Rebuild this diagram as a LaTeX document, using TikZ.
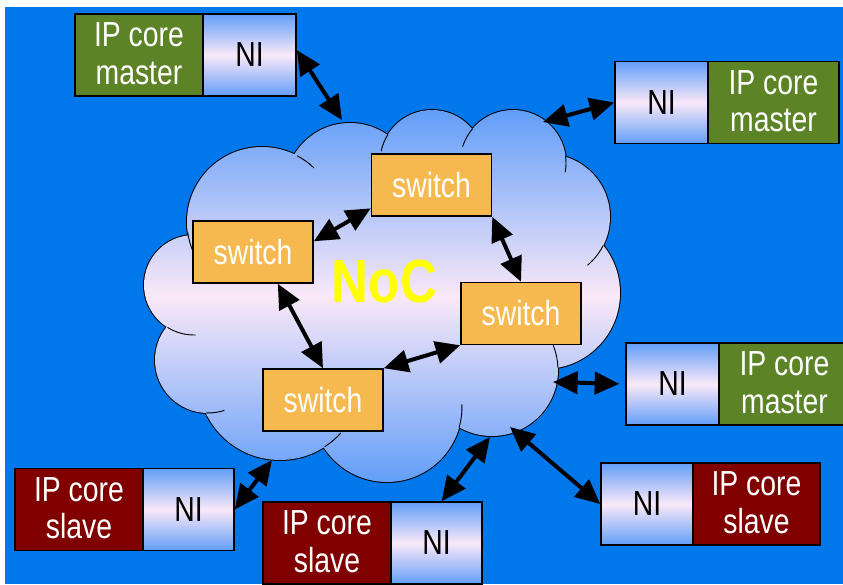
\documentclass[tikz,border=0pt]{standalone}
\usepackage{fontspec}
\setmainfont{Liberation Sans}
\usepackage{graphicx}
\usetikzlibrary{arrows.meta}

\definecolor{bgblue}{RGB}{0,120,235}
\definecolor{ipgreen}{RGB}{93,131,39}
\definecolor{ipred}{RGB}{128,0,0}
\definecolor{swfill}{RGB}{245,185,80}
\definecolor{shblue}{RGB}{98,158,248}
\definecolor{shpink}{RGB}{250,232,248}
\definecolor{nocyellow}{RGB}{255,255,0}

% condensed sans text, as set in the slide
\newcommand\narrow[1]{\scalebox{0.815}[1]{#1}}
\newcommand\twolines[2]{\raisebox{-0.09cm}[\height][\depth]{\narrow{\begin{tabular}{@{}c@{}}#1\\#2\end{tabular}}}}

\begin{document}
\begin{tikzpicture}[x=0.03cm,y=-0.03cm,
  boxfont/.style={font=\fontsize{29.7pt}{32.3pt}\selectfont},
  box/.style={draw=black, line width=1.3pt, inner sep=0pt, minimum height=2.46cm, boxfont},
  ipm/.style={box, fill=ipgreen, text=white, minimum width=3.84cm},
  ips/.style={box, fill=ipred, text=white, minimum width=3.84cm},
  ni/.style={box, top color=shblue, bottom color=shblue, middle color=shpink, text=black, minimum width=2.79cm},
  switchbox/.style={box, fill=swfill, text=white, minimum width=3.6cm, minimum height=1.86cm},
  link/.style={line width=3.4pt, {Triangle[length=21pt,width=19pt]}-{Triangle[length=21pt,width=19pt]}},
  cloudline/.style={line width=0.8pt},
]
% page and slide background
\fill[white] (0,0) rectangle (843,584);
\useasboundingbox (0,0) rectangle (843,584);
\fill[bgblue] (5,7) rectangle (843,584);

% cloud: outline of the bumps, then the shaded union on top
\draw[line width=1.7pt] foreach \cx/\cy/\r in {262/222/75, 350/188/65, 432/162/52, 513/163/53, 547/217/63, 544/293/76, 492/370/66, 387/407/75, 280/378/82, 208/360/53, 194/285/50} {(\cx,\cy) circle[radius=\r]};
\shade[top color=shblue, bottom color=shblue, middle color=shpink]
  foreach \cx/\cy/\r in {262/222/75, 350/188/65, 432/162/52, 513/163/53, 547/217/63, 544/293/76, 492/370/66, 387/407/75, 280/378/82, 208/360/53, 194/285/50} {(\cx,\cy) circle[radius=\r]}
  (380,297) circle[radius=130] (280,300) circle[radius=90] (480,285) circle[radius=90];
% short inner ends of the bump arcs
\draw[cloudline] (262,222) ++(-62:75) arc[start angle=-62, end angle=-46, radius=75];
\draw[cloudline] (262,222) ++(172:75) arc[start angle=172, end angle=158, radius=75];
\draw[cloudline] (432,162) ++(212:52) arc[start angle=212, end angle=192, radius=52];
\draw[cloudline] (513,163) ++(220:53) arc[start angle=220, end angle=198, radius=53];
\draw[cloudline] (513,163) ++(-8:53) arc[start angle=-8, end angle=10, radius=53];
\draw[cloudline] (547,217) ++(27:63) arc[start angle=27, end angle=50, radius=63];
\draw[cloudline] (492,370) ++(-2:66) arc[start angle=-2, end angle=-22, radius=66];
\draw[cloudline] (387,407) ++(16:75) arc[start angle=16, end angle=-2, radius=75];
\draw[cloudline] (280,378) ++(57:82) arc[start angle=57, end angle=42, radius=82];
\draw[cloudline] (208,360) ++(92:53) arc[start angle=92, end angle=72, radius=53];
\draw[cloudline] (194,285) ++(122:50) arc[start angle=122, end angle=88, radius=50];

% network label
\node[font=\fontsize{52pt}{60pt}\selectfont\bfseries, text=nocyellow] (noc) at (384.5,281.5) {\scalebox{0.84}[1]{NoC}};

% switches
\node[switchbox] (s1) at (431.5,185) {\narrow{switch}};
\node[switchbox] (s2) at (253,252) {\narrow{switch}};
\node[switchbox] (s3) at (521,313.5) {\narrow{switch}};
\node[switchbox] (s4) at (323,400) {\narrow{switch}};

% IP cores with their network interfaces
\node[ipm] (ip1) at (139,55) {\twolines{IP core}{master}};
\node[ni] (ni1) at (249.5,55) {\narrow{NI}};

\node[ni] (ni2) at (661.5,102.5) {\narrow{NI}};
\node[ipm, minimum width=3.93cm] (ip2) at (773.5,102.5) {\twolines{IP core}{master}};

\node[ni] (ni3) at (672.5,384) {\narrow{NI}};
\node[ipm, minimum width=3.93cm] (ip3) at (784.5,384) {\twolines{IP core}{master}};

\node[ni, minimum width=2.76cm] (ni4) at (647,504) {\narrow{NI}};
\node[ips, minimum width=3.81cm] (ip4) at (756.5,504) {\twolines{IP core}{slave}};

\node[ips] (ip5) at (79,509.5) {\twolines{IP core}{slave}};
\node[ni, minimum width=2.73cm] (ni5) at (188.5,509.5) {\narrow{NI}};

\node[ips] (ip6) at (327,543) {\twolines{IP core}{slave}};
\node[ni, minimum width=2.73cm] (ni6) at (436.5,543) {\narrow{NI}};

% attachment points on the cloud border
\coordinate (c1) at (342,120);
\coordinate (c2) at (543,122);
\coordinate (c3) at (553,382);
\coordinate (c4) at (510,427);
\coordinate (c5) at (490,437);
\coordinate (c6) at (272,460);

% links between switches
\draw[link] (s2.10) -- (s1.201);
\draw[link] (s1.south east) -- (s3.north);
\draw[link] (s2.-52) -- (s4.north);
\draw[link] (s4.north east) -- (s3.south west);

% links from the interfaces to the network
\draw[link] (ni1.6) -- (c1);
\draw[link] (ni2.west) -- (c2);
\draw[link, shorten >=0.18cm] (c3) -- (ni3.west);
\draw[link] (ni4.west) -- (c4);
\draw[link] (ni6.83) -- (c5);
\draw[link] (ni5.east) -- (c6);
\end{tikzpicture}
\end{document}
